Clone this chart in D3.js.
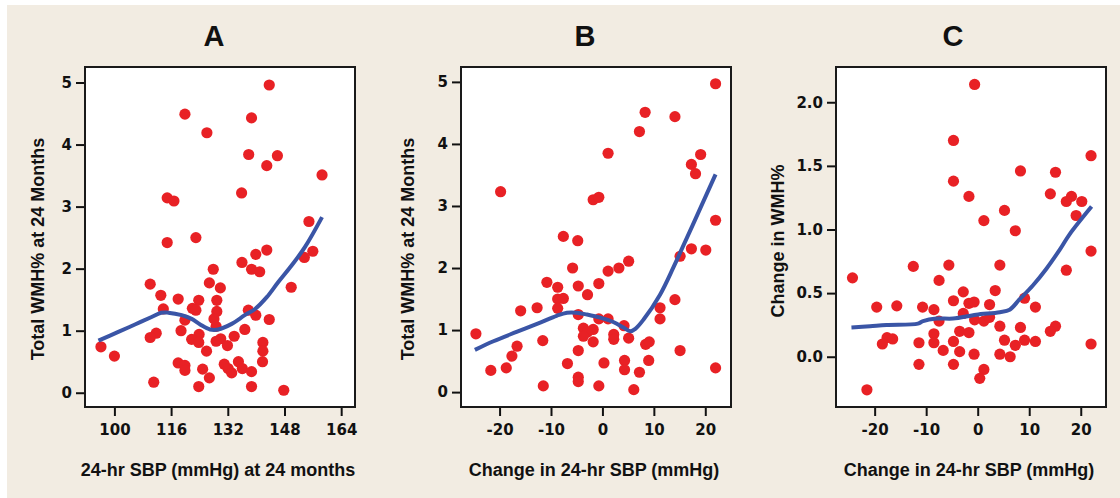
<!DOCTYPE html>
<html>
<head>
<meta charset="utf-8">
<script src="https://cdn.jsdelivr.net/npm/d3@7"></script>
<style>
  html, body { margin: 0; padding: 0; background: #fff; }
  svg { display: block; }
  .tick text { font-family: "DejaVu Sans", Verdana, sans-serif; font-weight: bold; font-size: 15px; fill: #111; }
  .tick line { stroke: #111; stroke-width: 2; }
  .lbl { font-family: "Liberation Sans", Arial, sans-serif; font-weight: bold; fill: #111; }
</style>
</head>
<body>
<div id="chart"></div>
<script>
// Panel A: 24-hr SBP at 24 months vs total WMH%
const pointsA = [
  [143.7,4.96],[119.9,4.49],[138.7,4.43],[126.1,4.19],[137.9,3.84],[146.0,3.82],[143.0,3.66],[158.6,3.51],
  [135.9,3.22],[114.9,3.14],[116.8,3.09],[154.9,2.76],[123.0,2.50],[114.9,2.42],[143.0,2.30],[139.9,2.23],
  [156.0,2.28],[153.6,2.18],[136.0,2.10],[138.7,1.99],[141.0,1.95],[127.9,1.99],[110.1,1.75],[126.8,1.77],
  [129.9,1.69],[149.9,1.70],[113.1,1.57],[118.0,1.51],[123.8,1.49],[128.9,1.49],[122.0,1.36],[123.0,1.33],
  [113.8,1.35],[128.9,1.31],[137.8,1.33],[139.9,1.25],[128.1,1.19],[119.9,1.17],[143.7,1.18],[128.7,1.07],
  [118.8,1.00],[111.8,0.96],[110.1,0.89],[136.8,1.02],[123.9,0.94],[133.8,0.91],[121.8,0.86],[123.8,0.81],
  [130.0,0.87],[128.7,0.83],[131.9,0.76],[141.9,0.81],[141.9,0.67],[126.0,0.67],[96.2,0.74],[100.0,0.59],
  [141.8,0.50],[118.0,0.48],[119.9,0.44],[119.9,0.36],[131.0,0.46],[132.1,0.39],[133.1,0.32],[135.0,0.50],
  [136.1,0.39],[138.7,0.34],[124.9,0.38],[126.8,0.24],[111.1,0.17],[123.8,0.10],[138.7,0.10],[147.8,0.04]
];
const loessA = [
  [95.5,0.84],[101.1,0.98],[105.8,1.10],[110.5,1.22],[113.2,1.29],[115.2,1.29],[119.0,1.25],[121.8,1.19],
  [124.2,1.10],[127.0,1.02],[129.3,1.02],[133.1,1.11],[136.8,1.25],[139.7,1.35],[143.0,1.54],[146.2,1.78],
  [150.0,2.05],[153.8,2.35],[158.6,2.83]
];

// Panel B: change in 24-hr SBP vs total WMH%
const pointsB = [
  [22.0,4.97],[8.3,4.51],[14.1,4.44],[7.2,4.20],[1.1,3.85],[19.1,3.83],[17.3,3.67],[18.1,3.52],
  [-19.8,3.23],[-1.8,3.10],[-0.7,3.14],[22.0,2.77],[-7.6,2.51],[-4.8,2.44],[17.3,2.31],[20.1,2.29],
  [15.1,2.19],[5.1,2.11],[3.2,2.00],[1.1,1.95],[-5.8,2.00],[-10.8,1.77],[-8.7,1.69],[-4.7,1.71],
  [-0.7,1.75],[-2.9,1.57],[-8.7,1.50],[-7.6,1.51],[-8.7,1.35],[-15.9,1.31],[-12.7,1.36],[14.1,1.49],
  [11.2,1.36],[11.2,1.18],[-4.7,1.25],[-0.7,1.18],[1.1,1.18],[4.2,1.07],[-3.7,1.03],[-1.8,1.01],
  [-2.9,0.97],[-3.7,0.90],[2.2,0.93],[2.2,0.85],[5.1,0.87],[-1.8,0.81],[-24.6,0.94],[-11.6,0.83],
  [-16.6,0.74],[-17.6,0.58],[-4.7,0.67],[8.4,0.77],[9.1,0.81],[15.1,0.67],[-21.7,0.35],[-18.7,0.39],
  [-6.8,0.46],[0.3,0.47],[4.3,0.51],[4.3,0.36],[9.0,0.51],[7.2,0.32],[22.0,0.39],[-4.7,0.24],
  [-4.7,0.17],[-11.5,0.10],[-0.7,0.10],[6.1,0.04]
];
const loessB = [
  [-24.8,0.68],[-21.2,0.82],[-16.7,0.97],[-12.1,1.12],[-8.9,1.23],[-6.9,1.28],[-5.0,1.28],[-3.0,1.25],
  [-0.4,1.20],[2.1,1.13],[4.1,1.04],[5.4,0.98],[6.4,1.02],[8.0,1.17],[11.2,1.57],[13.8,2.01],
  [15.4,2.30],[18.8,2.92],[22.0,3.51]
];

// Panel C: change in 24-hr SBP vs change in WMH%
const pointsC = [
  [-0.6,2.14],[-4.7,1.70],[22.0,1.58],[8.3,1.46],[15.1,1.45],[-4.7,1.38],[14.1,1.28],[-1.7,1.26],
  [18.2,1.26],[17.2,1.22],[20.2,1.22],[5.2,1.15],[19.1,1.11],[1.2,1.07],[7.3,0.99],[22.0,0.83],
  [17.2,0.68],[-12.5,0.71],[-5.6,0.72],[4.3,0.72],[-24.3,0.62],[-7.5,0.60],[-2.8,0.51],[3.4,0.52],
  [-4.7,0.44],[-1.7,0.42],[-0.7,0.43],[2.3,0.41],[9.1,0.46],[-19.6,0.39],[-15.7,0.40],[-10.7,0.39],
  [-8.5,0.37],[11.2,0.39],[-2.8,0.34],[-7.5,0.28],[-0.6,0.29],[1.2,0.28],[2.3,0.31],[4.3,0.24],
  [8.3,0.23],[15.1,0.24],[14.1,0.20],[-3.5,0.20],[-1.7,0.19],[-8.5,0.18],[-17.6,0.15],[-16.5,0.14],
  [-18.5,0.10],[-11.4,0.11],[-8.5,0.11],[-4.7,0.12],[5.2,0.13],[9.1,0.13],[11.2,0.12],[7.3,0.09],
  [22.0,0.10],[-6.7,0.05],[-3.5,0.04],[4.3,0.02],[6.3,0.00],[-0.7,0.02],[-11.4,-0.06],[-4.7,-0.06],
  [1.2,-0.10],[0.4,-0.17],[-21.5,-0.26]
];
const loessC = [
  [-24.5,0.23],[-20.9,0.24],[-17.7,0.25],[-11.6,0.26],[-10.6,0.28],[-8.0,0.30],[-4.8,0.30],[-0.3,0.33],
  [4.3,0.35],[6.2,0.37],[8.1,0.45],[10.7,0.56],[13.3,0.69],[15.9,0.84],[17.8,0.96],[22.1,1.18]
];

// Tick values and labels
const ticksXA = [100, 116, 132, 148, 164];
const ticksXBC = [-20, -10, 0, 10, 20];
const ticksYAB = [0, 1, 2, 3, 4, 5];
const ticksYC = [0.0, 0.5, 1.0, 1.5, 2.0];
const panelTitles = ["A", "B", "C"];
const xTitles = ["24-hr SBP (mmHg) at 24 months", "Change in 24-hr SBP (mmHg)", "Change in 24-hr SBP (mmHg)"];
const yTitles = ["Total WMH% at 24 Months", "Total WMH% at 24 Months", "Change in WMH%"];

const width = 1120, height = 498;
const plotTop = 67, plotBottom = 407;

const panels = [
  { left: 85, right: 355, xDom: [91.7, 167.9], yDom: [-0.23, 5.25], xTicks: ticksXA, yTicks: ticksYAB, yFmt: d3.format("d"),
    pts: pointsA, fit: loessA, titleX: 214, yLabX: 43.5, yLabY: 249 },
  { left: 461, right: 731, xDom: [-27.5, 25], yDom: [-0.24, 5.24], xTicks: ticksXBC, yTicks: ticksYAB, yFmt: d3.format("d"),
    pts: pointsB, fit: loessB, titleX: 585, yLabX: 413.5, yLabY: 249 },
  { left: 836, right: 1106, xDom: [-27.5, 24.9], yDom: [-0.395, 2.277], xTicks: ticksXBC, yTicks: ticksYC, yFmt: d3.format(".1f"),
    pts: pointsC, fit: loessC, titleX: 953, yLabX: 783.5, yLabY: 241 }
];

const svg = d3.select("#chart").append("svg")
  .attr("width", width)
  .attr("height", height);

// beige backdrop with thin white margin top/left
svg.append("rect").attr("x", 7).attr("y", 5).attr("width", width - 7).attr("height", height - 5).attr("fill", "#f2ece2");

panels.forEach((p, i) => {
  const x = d3.scaleLinear().domain(p.xDom).range([p.left, p.right]);
  const y = d3.scaleLinear().domain(p.yDom).range([plotBottom, plotTop]);

  const g = svg.append("g");

  g.append("rect")
    .attr("x", p.left).attr("y", plotTop)
    .attr("width", p.right - p.left).attr("height", plotBottom - plotTop)
    .attr("fill", "#fff");

  // axes
  const ax = g.append("g")
    .attr("transform", `translate(0,${plotBottom})`)
    .call(d3.axisBottom(x).tickValues(p.xTicks).tickSize(9).tickPadding(8).tickSizeOuter(0));
  const ay = g.append("g")
    .attr("transform", `translate(${p.left},0)`)
    .call(d3.axisLeft(y).tickValues(p.yTicks).tickFormat(p.yFmt).tickSize(9).tickPadding(4).tickSizeOuter(0));
  ax.select(".domain").remove();
  ay.select(".domain").remove();
  ax.selectAll(".tick text").text(d => d < 0 ? "-" + Math.abs(d) : d);

  // points
  g.append("g")
    .selectAll("circle")
    .data(p.pts)
    .join("circle")
    .attr("cx", d => x(d[0]))
    .attr("cy", d => y(d[1]))
    .attr("r", 5.6)
    .attr("fill", "#e82125");

  // smoothed fit
  const line = d3.line()
    .x(d => x(d[0]))
    .y(d => y(d[1]))
    .curve(d3.curveCatmullRom.alpha(0.5));
  g.append("path")
    .datum(p.fit)
    .attr("d", line)
    .attr("fill", "none")
    .attr("stroke", "#3a55a6")
    .attr("stroke-width", 4)
    .attr("stroke-linejoin", "round");

  // frame
  g.append("rect")
    .attr("x", p.left).attr("y", plotTop)
    .attr("width", p.right - p.left).attr("height", plotBottom - plotTop)
    .attr("fill", "none")
    .attr("stroke", "#1a1a1a")
    .attr("stroke-width", 2);

  // labels
  g.append("text")
    .attr("class", "lbl")
    .attr("x", p.titleX).attr("y", 46)
    .attr("text-anchor", "middle")
    .attr("font-size", 29)
    .text(panelTitles[i]);

  g.append("text")
    .attr("class", "lbl")
    .attr("x", (p.left + p.right) / 2 - 2).attr("y", 476)
    .attr("text-anchor", "middle")
    .attr("font-size", 18)
    .text(xTitles[i]);

  g.append("text")
    .attr("class", "lbl")
    .attr("transform", `translate(${p.yLabX},${p.yLabY}) rotate(-90)`)
    .attr("text-anchor", "middle")
    .attr("font-size", 18)
    .text(yTitles[i]);
});
</script>
</body>
</html>
